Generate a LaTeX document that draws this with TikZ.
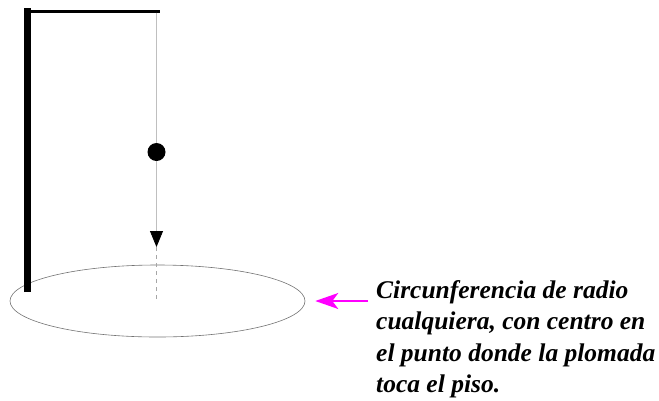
\documentclass[tikz,border=0pt]{standalone}
\usepackage{fontspec}
\setmainfont{Liberation Serif}
\usetikzlibrary{arrows.meta,shapes.geometric}
\definecolor{pink}{RGB}{255,0,255}
\begin{document}
\begin{tikzpicture}[x=1pt,y=-1pt,
  pole/.style={line width=7pt},
  beam/.style={line width=3pt},
  cord/.style={draw=black!25,line width=0.8pt},
  bob/.style={circle,fill=black,minimum size=18pt,inner sep=0pt},
  floorline/.style={ellipse,draw=black!55,line width=0.6pt,minimum width=295pt,minimum height=72pt,inner sep=0pt},
  pointer/.style={draw=pink,line width=1.8pt,-{Stealth[length=23pt,width=16pt,inset=6pt,pink]}},
  label/.style={font=\fontsize{25.5}{31.5}\selectfont\bfseries\itshape,align=left,anchor=north west,inner sep=0pt}]
\useasboundingbox (0,0) rectangle (659,400);
\coordinate (base) at (27.5,292);
\coordinate (top) at (27.5,8);
\coordinate (hook) at (160,11);
\coordinate (knot) at (156.5,12.5);
\node[bob] (weight) at (156.5,152) {};
\coordinate (tip) at (156.5,247);
\coordinate (ground) at (156.5,300);
\node[floorline] (floor) at (157.5,301) {};
\draw[pole] (base) -- (top);
\draw[beam] (24,11) -- (hook);
\draw[cord] (knot) -- (weight);
\draw[cord,-{Triangle[length=16pt,width=13pt,black]}] (weight) -- (tip);
\draw[draw=black!35,line width=0.6pt,dash pattern=on 4pt off 4pt] (tip) -- (ground);
\node[label] (text) at (376,280) {Circunferencia de radio\\cualquiera, con centro en\\el punto donde la plomada\\toca el piso.};
\coordinate (tail) at (368,301);
\draw[pointer] (tail) -- ([xshift=10pt]floor.east);
\end{tikzpicture}
\end{document}
